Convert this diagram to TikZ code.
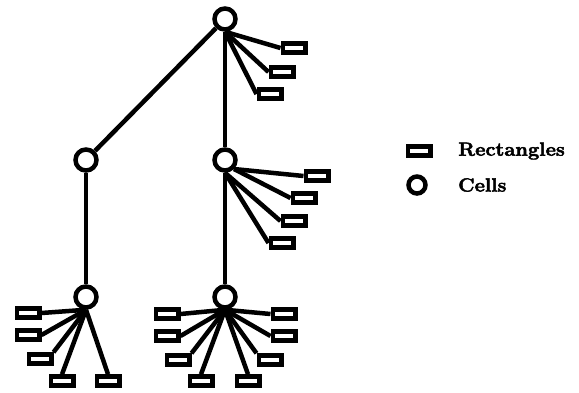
\documentclass[tikz,border=0pt]{standalone}
\usepackage{fontspec}
\setmainfont{Latin Modern Roman}[BoldFeatures={FakeBold=2.5}]
\begin{document}
\begin{tikzpicture}[x=1pt,y=-1pt,line width=4.5pt,
  cell/.style={circle,draw,minimum size=21pt,inner sep=0pt},
  rect/.style={rectangle,draw,minimum width=22.5pt,minimum height=9pt,inner sep=0pt},
  lbl/.style={anchor=west,inner sep=0pt,font=\bfseries\fontsize{19}{22}\selectfont}]
\useasboundingbox (0,0) rectangle (579,392);
% cells
\node[cell] (t) at (225,19) {};
\node[cell] (ml) at (86,160) {};
\node[cell] (mr) at (225,160) {};
\node[cell] (bl) at (86,297) {};
\node[cell] (br) at (225,297) {};
% tree edges
\draw (t) -- (ml);
\draw (t) -- (mr);
\draw (ml) -- (bl);
\draw (mr) -- (br);
% top fan
\node[rect] (t1) at (294,48) {};
\node[rect] (t2) at (282,72) {};
\node[rect] (t3) at (270,94) {};
\foreach \r in {t1,t2,t3} \draw (t.south) -- (\r.west);
% middle right fan
\node[rect] (m1) at (317,176) {};
\node[rect] (m2) at (304,198) {};
\node[rect] (m3) at (294,221) {};
\node[rect] (m4) at (282,243) {};
\draw (mr.south east) -- (m1.west);
\draw (mr.south east) -- (m2.west);
\draw (mr.south) -- (m3.west);
\draw (mr.south) -- (m4.west);
% bottom left fan
\node[rect] (a1) at (28,313) {};
\node[rect] (a2) at (28,335) {};
\node[rect] (a3) at (40,359) {};
\node[rect] (a4) at (62,381) {};
\node[rect] (a5) at (108,381) {};
\draw (bl.south) -- (a1.east);
\draw (bl.south) -- (a2.east);
\draw (bl.south) -- (a3.north east);
\draw (bl.south) -- (a4.north);
\draw (bl.south) -- (a5.north);
% bottom right fan
\node[rect] (b1) at (167,314) {};
\node[rect] (b2) at (167,336) {};
\node[rect] (b3) at (178,360) {};
\node[rect] (b4) at (201,381) {};
\node[rect] (b5) at (248,381) {};
\node[rect] (b6) at (270,360) {};
\node[rect] (b7) at (284,336) {};
\node[rect] (b8) at (284,314) {};
\draw (br.south) -- (b1.east);
\draw (br.south) -- (b2.east);
\draw (br.south) -- (b3.north east);
\draw (br.south) -- (b4.north);
\draw (br.south) -- (b5.north);
\draw (br.south) -- (b6.north west);
\draw (br.south) -- (b7.west);
\draw (br.south) -- (b8.west);
% legend
\node[rect] (lr) at (419,151) {};
\node[circle,draw,minimum size=17pt,inner sep=0pt] (lc) at (417,185) {};
\node[lbl] (lrt) at (456,151) {\scalebox{1.06}[1]{Rectangles}};
\node[lbl] (lct) at (456,185) {\scalebox{1.06}[1]{Cells}};
\end{tikzpicture}
\end{document}
